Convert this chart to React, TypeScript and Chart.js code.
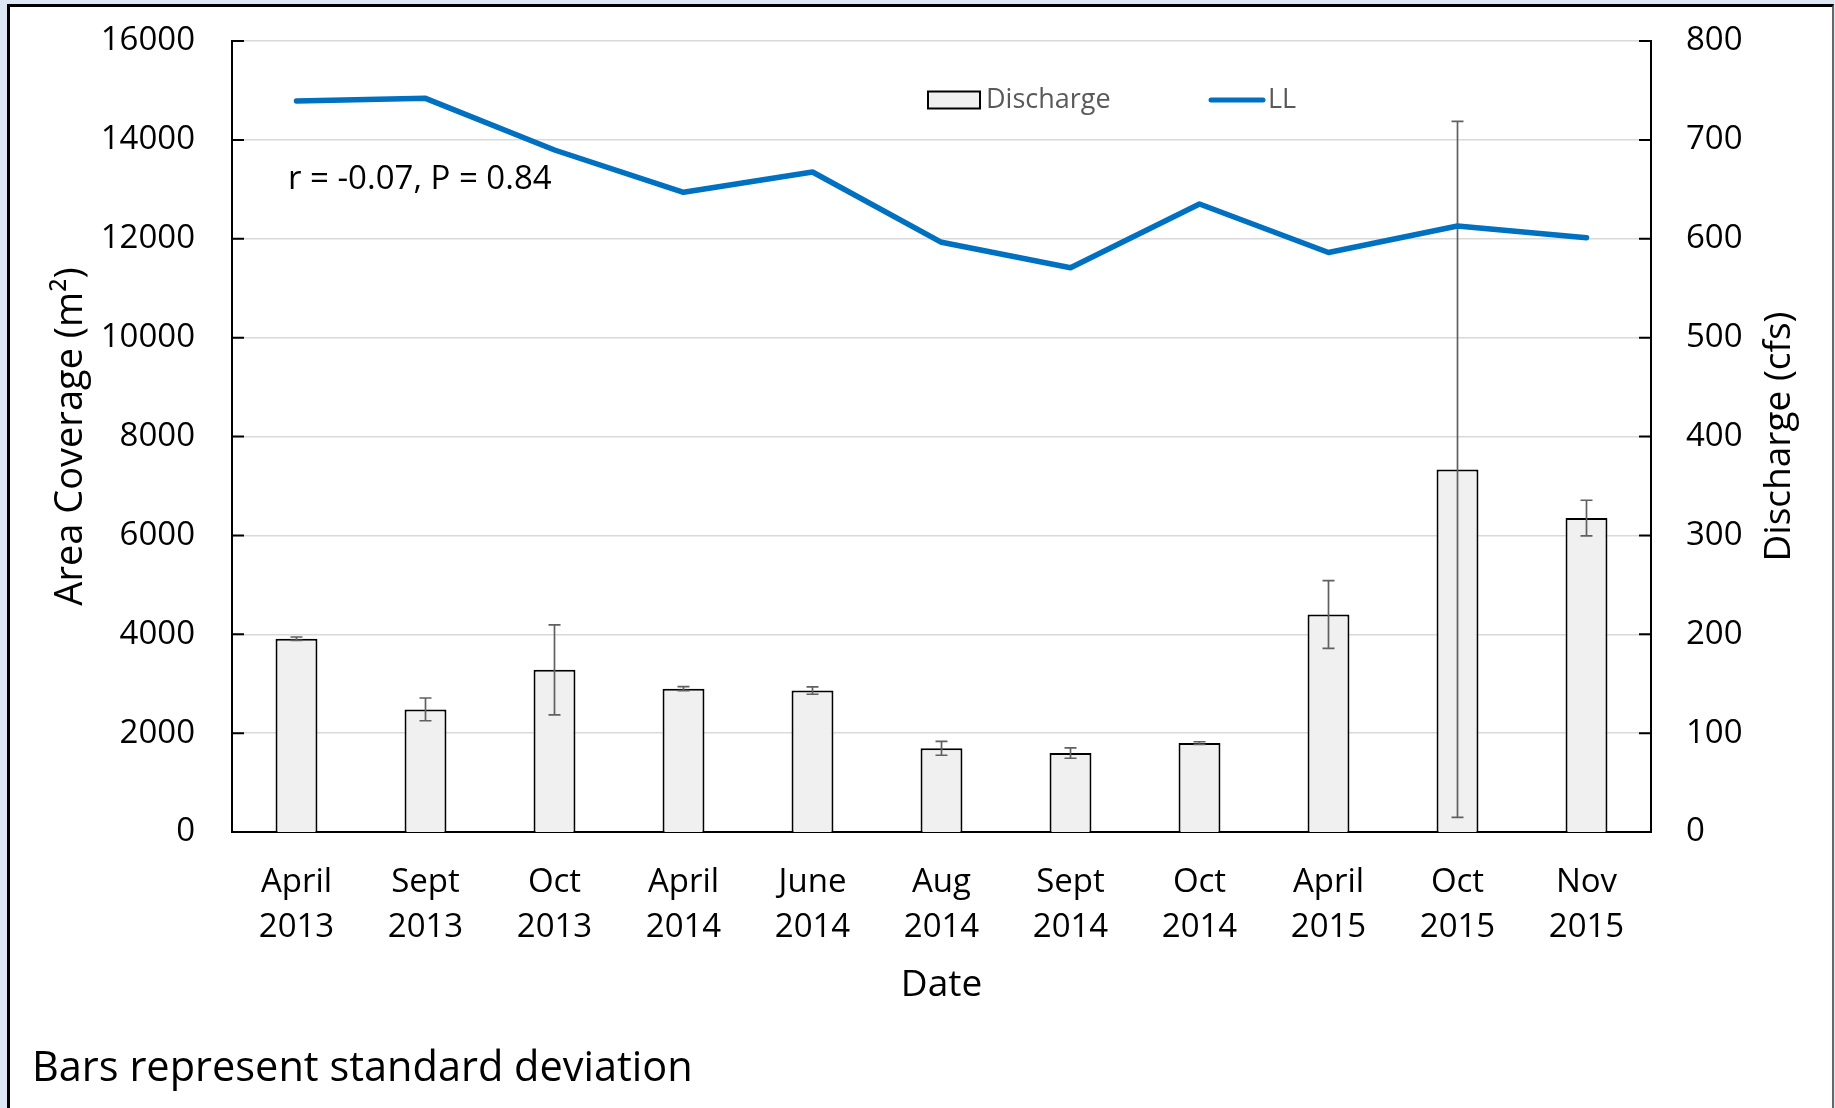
import React, { useEffect, useRef } from 'react';
import { Chart, registerables } from 'chart.js';

Chart.register(...registerables);

// ---------- data ----------
const categories: string[][] = [
  ['April', '2013'], ['Sept', '2013'], ['Oct', '2013'], ['April', '2014'], ['June', '2014'],
  ['Aug', '2014'], ['Sept', '2014'], ['Oct', '2014'], ['April', '2015'], ['Oct', '2015'], ['Nov', '2015'],
];
// LL area coverage (m^2), left axis
const llValues = [14785, 14840, 13795, 12940, 13350, 11928, 11414, 12702, 11722, 12257, 12018];
// Discharge (cfs), right axis
const dischargeValues = [195.5, 124, 164, 145, 143, 84.6, 79.8, 90, 220, 366.7, 317.5];
const dischargeSD = [1.7, 11.5, 45.5, 2, 3.7, 7, 5.2, 1.3, 34.2, 352, 18];

const areaAxis = { min: 0, max: 16000, step: 2000 };
const dischargeAxis = { min: 0, max: 800, step: 100 };

const titleLeft = 'Area Coverage (m²)';
const titleRight = 'Discharge (cfs)';
const titleX = 'Date';
const noteText = 'r = -0.07, P = 0.84';
const footText = 'Bars represent standard deviation';
const legendBar = 'Discharge';
const legendLine = 'LL';

const FONT = '"Open Sans", "Noto Sans", "DejaVu Sans", sans-serif';
const LINE_COLOR = '#0070C0';
const BAR_FILL = '#f0f0f0';

const extrasPlugin = {
  id: 'extras',
  afterDatasetDraw(chart: any, args: any) {
    if (args.index !== 0) return;
    const ctx = chart.ctx;
    const meta = chart.getDatasetMeta(0);
    const y1 = chart.scales.y1;
    ctx.save();
    ctx.strokeStyle = '#606060';
    ctx.lineWidth = 1.7;
    meta.data.forEach((bar: any, i: number) => {
      const x = bar.x;
      const top = y1.getPixelForValue(dischargeValues[i] + dischargeSD[i]);
      const bot = y1.getPixelForValue(dischargeValues[i] - dischargeSD[i]);
      ctx.beginPath();
      ctx.moveTo(x, top); ctx.lineTo(x, bot);
      ctx.moveTo(x - 6, top); ctx.lineTo(x + 6, top);
      ctx.moveTo(x - 6, bot); ctx.lineTo(x + 6, bot);
      ctx.stroke();
    });
    ctx.restore();
  },
  afterDraw(chart: any) {
    const ctx = chart.ctx;
    const ca = chart.chartArea;
    const y = chart.scales.y;
    const y1 = chart.scales.y1;
    ctx.save();
    // inside tick marks
    ctx.strokeStyle = '#000';
    ctx.lineWidth = 2;
    ctx.beginPath();
    y.ticks.forEach((t: any) => {
      const py = y.getPixelForValue(t.value);
      ctx.moveTo(ca.left, py); ctx.lineTo(ca.left + 12, py);
    });
    y1.ticks.forEach((t: any) => {
      const py = y1.getPixelForValue(t.value);
      ctx.moveTo(ca.right - 12, py); ctx.lineTo(ca.right, py);
    });
    ctx.stroke();

    const midY = (ca.top + ca.bottom) / 2;
    ctx.fillStyle = '#000';
    ctx.textAlign = 'center';
    ctx.textBaseline = 'middle';
    // left title
    ctx.font = `38px ${FONT}`;
    ctx.save();
    ctx.translate(ca.left - 161, midY);
    ctx.rotate(-Math.PI / 2);
    ctx.fillText(titleLeft, 0, 0);
    ctx.restore();
    // right title
    ctx.font = `37px ${FONT}`;
    ctx.save();
    ctx.translate(ca.right + 128, midY);
    ctx.rotate(-Math.PI / 2);
    ctx.fillText(titleRight, 0, 0);
    ctx.restore();
    // x title
    ctx.fillText(titleX, (ca.left + ca.right) / 2, ca.bottom + 153);

    // annotation
    ctx.textAlign = 'left';
    ctx.textBaseline = 'alphabetic';
    ctx.font = `33px ${FONT}`;
    ctx.fillText(noteText, ca.left + 56, ca.top + 148);

    // footnote
    ctx.textBaseline = 'middle';
    ctx.font = `41.5px ${FONT}`;
    ctx.fillText(footText, ca.left - 200, ca.bottom + 237);

    // legend
    const lx = ca.left + 696;
    const ly = ca.top + 59;
    ctx.fillStyle = BAR_FILL;
    ctx.fillRect(lx, ly - 8.5, 52, 17);
    ctx.strokeStyle = '#000';
    ctx.lineWidth = 2;
    ctx.strokeRect(lx, ly - 8.5, 52, 17);
    ctx.fillStyle = '#595959';
    ctx.font = `27px ${FONT}`;
    ctx.fillText(legendBar, lx + 58, ly);
    ctx.strokeStyle = LINE_COLOR;
    ctx.lineWidth = 5;
    ctx.lineCap = 'round';
    ctx.beginPath();
    ctx.moveTo(lx + 283, ly); ctx.lineTo(lx + 335, ly);
    ctx.stroke();
    ctx.fillText(legendLine, lx + 340, ly);
    ctx.restore();
  },
};

const plainNumber = (v: any) => String(v);

export default function App() {
  const canvasRef = useRef<HTMLCanvasElement | null>(null);

  useEffect(() => {
    if (!canvasRef.current) return;
    const chart = new Chart(canvasRef.current, {
      type: 'bar',
      data: {
        labels: categories,
        datasets: [
          {
            type: 'bar',
            label: legendBar,
            data: dischargeValues,
            yAxisID: 'y1',
            backgroundColor: BAR_FILL,
            borderColor: '#000',
            borderWidth: 2,
            barPercentage: 0.325,
            categoryPercentage: 1,
            order: 1,
          },
          {
            type: 'line',
            label: legendLine,
            data: llValues,
            yAxisID: 'y',
            borderColor: LINE_COLOR,
            borderWidth: 5.5,
            pointRadius: 0,
            tension: 0,
            borderCapStyle: 'round',
            borderJoinStyle: 'round',
            order: 0,
          } as any,
        ],
      },
      options: {
        responsive: false,
        animation: false,
        devicePixelRatio: 1,
        layout: { autoPadding: false, padding: { top: 41, left: 0, right: 0, bottom: 0 } },
        plugins: {
          legend: { display: false },
          tooltip: { enabled: false },
        },
        scales: {
          x: {
            grid: { display: false, drawTicks: false },
            border: { display: true, color: '#000', width: 2 },
            ticks: {
              color: '#000',
              font: { family: FONT, size: 33, lineHeight: 1.37 },
              padding: 28,
              maxRotation: 0,
              autoSkip: false,
            },
            afterFit: (s: any) => { s.height = 276; s.paddingLeft = 0; s.paddingRight = 0; },
          },
          y: {
            position: 'left',
            min: areaAxis.min,
            max: areaAxis.max,
            grid: { color: '#d9d9d9', lineWidth: 1.5, drawTicks: false },
            border: { display: true, color: '#000', width: 2 },
            ticks: {
              stepSize: areaAxis.step,
              color: '#000',
              font: { family: FONT, size: 33 },
              padding: 37,
              callback: plainNumber,
            },
            afterFit: (s: any) => { s.width = 232; s.paddingTop = 0; s.paddingBottom = 0; },
          },
          y1: {
            position: 'right',
            min: dischargeAxis.min,
            max: dischargeAxis.max,
            grid: { display: false, drawTicks: false },
            border: { display: true, color: '#000', width: 2 },
            ticks: {
              stepSize: dischargeAxis.step,
              color: '#000',
              font: { family: FONT, size: 33 },
              padding: 35,
              callback: plainNumber,
            },
            afterFit: (s: any) => { s.width = 184; s.paddingTop = 0; s.paddingBottom = 0; },
          },
        },
      },
      plugins: [extrasPlugin],
    } as any);
    return () => chart.destroy();
  }, []);

  return (
    <div style={{ position: 'fixed', left: 0, top: 0, width: 1835, height: 1108, background: '#dde7f4', overflow: 'hidden' }}>
      <div
        style={{
          position: 'absolute', left: 7, top: 4, width: 1822, height: 1120,
          background: '#fff', borderLeft: '3px solid #000', borderTop: '3px solid #000', borderRight: '2px solid #666',
        }}
      />
      <canvas ref={canvasRef} width={1835} height={1108} style={{ position: 'absolute', left: 0, top: 0, width: 1835, height: 1108 }} />
    </div>
  );
}
